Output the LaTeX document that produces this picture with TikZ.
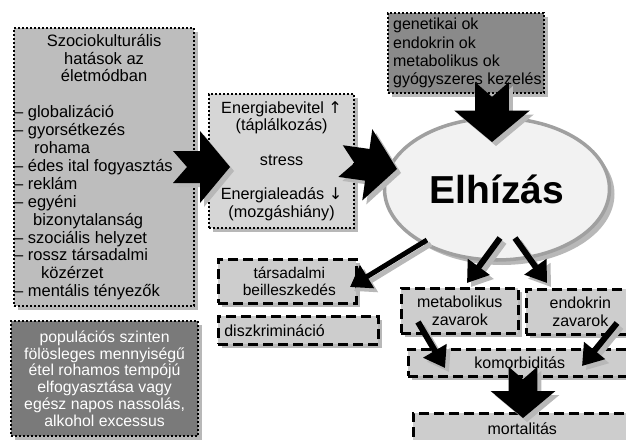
\documentclass[tikz,border=0pt]{standalone}
\usepackage{fontspec}
\setmainfont{Liberation Sans}
\newfontfamily\arrfont{DejaVu Sans}
\usetikzlibrary{arrows.meta,shapes.geometric,shadows}
\definecolor{boxA}{HTML}{BDBDBD}
\definecolor{boxB}{HTML}{D6D6D6}
\definecolor{boxC}{HTML}{8A8A8A}
\definecolor{boxD}{HTML}{7A7A7A}
\definecolor{boxE}{HTML}{CDCDCD}
\definecolor{shadowc}{HTML}{B8B8B8}
\definecolor{ellfill}{HTML}{F2F2F2}
\definecolor{elldraw}{HTML}{A0A0A0}
\tikzset{
  shad/.style={drop shadow={shadow xshift=4pt,shadow yshift=-4pt,fill=shadowc,opacity=1}},
  dotbox/.style={rectangle,draw=black,line width=2.2pt,dash pattern=on 2pt off 2pt,
    inner sep=0pt,anchor=north west,shad},
  dashbox/.style={rectangle,draw=black,line width=2.6pt,dash pattern=on 10pt off 5pt,
    fill=boxE,inner sep=0pt,anchor=north west,shad},
  thinarrow/.style={line width=#1,-{Triangle[length=20pt,width=26pt]}},
  thinshadow/.style={draw=shadowc,line width=#1,-{Triangle[length=20pt,width=26pt,fill=shadowc]}},
}
\newcommand\BlkArrow[4]{%
  \begin{scope}[shift={({#1+4},{#2+4})},rotate=#3,scale=#4]
    \fill[shadowc] (0,0) -- (-30,36) -- (-30,16) -- (-57,16) -- (-43,0) -- (-57,-16) -- (-30,-16) -- (-30,-36) -- cycle;
  \end{scope}
  \begin{scope}[shift={(#1,#2)},rotate=#3,scale=#4]
    \fill[black] (0,0) -- (-30,36) -- (-30,16) -- (-57,16) -- (-43,0) -- (-57,-16) -- (-30,-16) -- (-30,-36) -- cycle;
  \end{scope}}
\begin{document}
\begin{tikzpicture}[x=1pt,y=-1pt]
\useasboundingbox (0,0) rectangle (626,439);

% left big box
\node[dotbox,fill=boxA,minimum width=180pt,minimum height=278pt] (soc) at (13,27)
{\parbox{180pt}{\fontsize{16.5}{17.9}\selectfont
{\centering Szociokulturális\\
hatások az\\
életmódban\par}
\vspace{17.9pt}
– globalizáció\\
– gyorsétkezés\\
\hspace*{20pt}rohama\\
– édes ital fogyasztás\\
– reklám\\
– egyéni\\
\hspace*{19pt}bizonytalanság\\
– szociális helyzet\\
– rossz társadalmi\\
\hspace*{27pt}közérzet\\
– mentális tényezők}};

% bottom-left dark box
\node[dotbox,fill=boxD,minimum width=187pt,minimum height=115pt,text=white] (pop) at (10,320)
{\parbox{187pt}{\centering\fontsize{15.8}{16.7}\selectfont
populációs szinten\\
fölösleges mennyiségű\\
étel rohamos tempójú\\
elfogyasztása vagy\\
egész napos nassolás,\\
alkohol excessus}};

% middle box
\node[dotbox,fill=boxB,minimum width=145pt,minimum height=134pt] (ener) at (208,93)
{\parbox{145pt}{\centering\fontsize{16.2}{17.9}\selectfont
Energiabevitel {\arrfont ↑}\\
(táplálkozás)\\[17pt]
stress\\[16pt]
Energialeadás {\arrfont ↓}\\
(mozgáshiány)}};

% top right box
\node[dotbox,fill=boxC,minimum width=156pt,minimum height=80pt] (gen) at (387,12)
{\parbox{156pt}{\fontsize{16}{18.3}\selectfont\leftskip=5pt
genetikai ok\\
endokrin ok\\
metabolikus ok\\
gyógyszeres kezelés}};

% ellipse
\fill[shadowc] (502,194) ellipse [x radius=112.5pt, y radius=71pt];
\node[ellipse,fill=ellfill,draw=elldraw,line width=3.5pt,minimum width=225pt,minimum height=142pt,inner sep=0pt]
  (elh) at (497,189) {\fontsize{39}{44}\selectfont\bfseries Elhízás};

% dashed boxes
\node[dashbox,minimum width=138pt,minimum height=44pt] (tars) at (217,258)
{\parbox{138pt}{\centering\fontsize{15.5}{16.5}\selectfont\hspace*{4pt}társadalmi\\\hspace*{4pt}beilleszkedés}};
\node[dashbox,minimum width=160pt,minimum height=28pt] (disz) at (217,315)
{\parbox{160pt}{\fontsize{16}{16.5}\selectfont\leftskip=6pt diszkrimináció}};
\node[dashbox,minimum width=117pt,minimum height=45pt] (metab) at (400,287)
{\parbox{117pt}{\centering\fontsize{16}{17.5}\selectfont metabolikus\\zavarok}};
\node[dashbox,minimum width=108pt,minimum height=45pt] (endo) at (525,288)
{\parbox{108pt}{\centering\fontsize{16}{17.5}\selectfont endokrin\\zavarok}};
\node[dashbox,minimum width=223pt,minimum height=27pt] (komorb) at (407,348)
{\parbox{223pt}{\centering\fontsize{16}{17.5}\selectfont komorbiditás}};
\node[dashbox,minimum width=218pt,minimum height=30pt] (mort) at (412,412)
{\parbox{218pt}{\centering\fontsize{16}{17.5}\selectfont mortalitás}};

% block arrows
\BlkArrow{230}{167}{0}{1}
\BlkArrow{397}{169}{-8}{1}
\BlkArrow{492}{142}{-90}{1.05}
\BlkArrow{523}{418}{-90}{0.9}

% thin arrows
\coordinate (s4) at (427,240); \coordinate (t4) at (350,287);
\coordinate (s5) at (500,238); \coordinate (t5) at (467,283);
\coordinate (s6) at (515,238); \coordinate (t6) at (547,283);
\coordinate (s7) at (418,322); \coordinate (t7) at (445,368);
\coordinate (s8) at (617,323); \coordinate (t8) at (582,366);
\foreach \a/\b/\w in {s4/t4/5pt,s5/t5/6pt,s6/t6/6pt,s7/t7/6pt,s8/t8/6pt}{
  \draw[thinshadow=\w] ([shift={(4,4)}]\a) -- ([shift={(4,4)}]\b);
}
\foreach \a/\b/\w in {s4/t4/5pt,s5/t5/6pt,s6/t6/6pt,s7/t7/6pt,s8/t8/6pt}{
  \draw[thinarrow=\w] (\a) -- (\b);
}
\end{tikzpicture}
\end{document}
